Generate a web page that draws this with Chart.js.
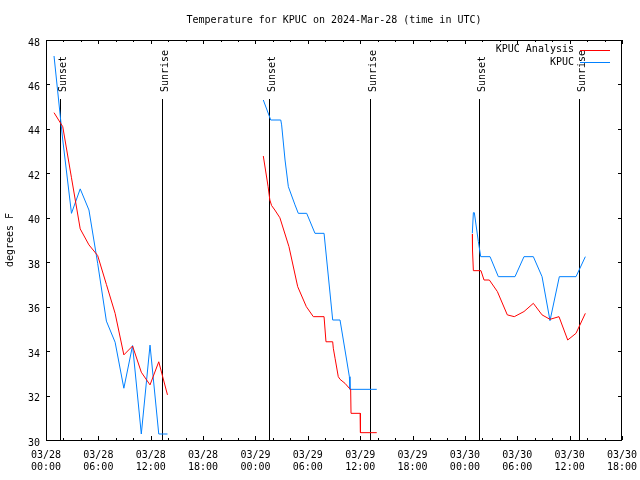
<!DOCTYPE html>
<html>
<head>
<meta charset="utf-8">
<title>Temperature for KPUC</title>
<script src="https://cdn.jsdelivr.net/npm/chart.js@4.4.1/dist/chart.umd.min.js"></script>
<style>
  html, body { margin: 0; padding: 0; background: #fff; }
  canvas { display: block; }
</style>
</head>
<body>
<canvas id="temp-chart" width="640" height="480"></canvas>
<script>
// hours after 03/28 00:00 UTC, null temp = gap between the three runs
const analysisHours = [0.92, 1.92, 2.92, 3.92, 4.92, 5.92, 6.92, 7.92, 8.92, 9.92, 10.92, 11.92, 12.92, 13.92,
  19,
  24.9, 25.45, 25.65, 25.85, 26.22, 26.8, 27.84, 28.84, 29.83, 30.63, 31.86, 32.08, 32.85, 32.92, 33.12,
  33.49, 33.69, 34.26, 34.75, 34.91, 34.95, 36.0, 36.03, 37.9,
  43,
  48.85, 48.87, 48.97, 49.84, 50.19, 50.8, 51.72, 52.86, 53.66, 54.77, 55.84, 56.84, 57.75, 58.78,
  59.78, 60.73, 61.8];
const analysisTemps = [44.73, 44.1, 41.8, 39.5, 38.78, 38.3, 37.0, 35.7, 33.83, 34.23, 33.05, 32.48, 33.52, 32.03,
  null,
  42.78, 41.4, 40.8, 40.55, 40.35, 40.0, 38.7, 36.9, 36.0, 35.55, 35.55, 34.42, 34.42, 34.13, 33.68,
  32.85, 32.73, 32.55, 32.33, 32.28, 31.2, 31.2, 30.33, 30.33,
  null,
  39.27, 38.55, 37.62, 37.62, 37.2, 37.2, 36.68, 35.63, 35.55, 35.78, 36.15, 35.63, 35.43, 35.55,
  34.5, 34.8, 35.7];

const obsHours = [0.92, 1.92, 2.92, 3.92, 4.92, 5.92, 6.92, 7.92, 8.92, 9.92, 10.92, 11.92, 12.92, 13.92,
  19,
  24.9, 25.75, 26.9, 27.0, 27.39, 27.77, 28.53, 28.91, 29.87, 30.82, 31.86, 32.85, 33.69, 34.45,
  34.76, 34.83, 37.9,
  43,
  48.85, 48.97, 49.08, 49.54, 49.81, 50.88, 51.83, 53.74, 54.77, 55.84, 56.84, 57.75, 58.82, 60.73, 61.8];
const obsTemps = [47.28, 43.5, 40.2, 41.3, 40.35, 37.95, 35.35, 34.4, 32.33, 34.25, 30.27, 34.27, 30.27, 30.27,
  null,
  45.3, 44.4, 44.4, 44.18, 42.6, 41.4, 40.58, 40.2, 40.2, 39.3, 39.3, 35.4, 35.4, 33.6,
  32.85, 32.28, 32.28,
  null,
  39.3, 40.23, 40.23, 38.93, 38.25, 38.25, 37.35, 37.35, 38.25, 38.25, 37.35, 35.37, 37.35, 37.35, 38.25];

const sunsetHours = [1.64, 25.59, 49.65];
const sunriseHours = [13.33, 37.15, 61.11];

const dayLabels = ["03/28", "03/29", "03/30"];
const hourLabels = ["00:00", "06:00", "12:00", "18:00"];

const FONT = '10px "DejaVu Sans Mono", "Liberation Mono", monospace';

function toPoints(hours, temps) {
  return hours.map((h, i) => ({ x: h, y: temps[i] }));
}

// gnuplot-like frame, inward ticks on all four sides
const framePlugin = {
  id: "frame",
  afterDatasetsDraw(chart) {
    const { ctx, chartArea: a, scales: { x, y } } = chart;
    ctx.save();
    ctx.strokeStyle = "#000";
    ctx.lineWidth = 1;
    ctx.beginPath();
    for (let h = x.min; h <= x.max; h += 2) {
      const px = Math.round(x.getPixelForValue(h)) + 0.5;
      const len = h % 6 === 0 ? 4 : 2;
      ctx.moveTo(px, a.bottom); ctx.lineTo(px, a.bottom - len);
      ctx.moveTo(px, a.top); ctx.lineTo(px, a.top + len);
    }
    y.ticks.forEach(t => {
      const py = Math.round(y.getPixelForValue(t.value)) + 0.5;
      ctx.moveTo(a.left, py); ctx.lineTo(a.left + 4, py);
      ctx.moveTo(a.right, py); ctx.lineTo(a.right - 4, py);
    });
    ctx.stroke();
    ctx.strokeRect(a.left + 0.5, a.top + 0.5, a.right - a.left - 1, a.bottom - a.top);
    ctx.restore();
  }
};

const sunPlugin = {
  id: "sunLines",
  beforeDatasetsDraw(chart) {
    const { ctx, chartArea: a, scales: { x } } = chart;
    const marks = sunsetHours.map(h => [h, "Sunset"]).concat(sunriseHours.map(h => [h, "Sunrise"]));
    ctx.save();
    ctx.strokeStyle = "#000";
    ctx.fillStyle = "#000";
    ctx.lineWidth = 1;
    ctx.font = FONT;
    marks.forEach(([h, label]) => {
      const px = Math.round(x.getPixelForValue(h)) + 0.5;
      ctx.beginPath();
      ctx.moveTo(px, 99);
      ctx.lineTo(px, a.bottom);
      ctx.stroke();
      ctx.save();
      ctx.translate(px + 5, 92);
      ctx.rotate(-Math.PI / 2);
      ctx.textAlign = "left";
      ctx.textBaseline = "alphabetic";
      ctx.fillText(label, 0, 0);
      ctx.restore();
    });
    ctx.restore();
  }
};

// title and gnuplot-style key (text, then line sample)
const textPlugin = {
  id: "texts",
  afterDraw(chart) {
    const { ctx, chartArea: a } = chart;
    ctx.save();
    ctx.font = FONT;
    ctx.fillStyle = "#000";
    ctx.textBaseline = "middle";
    ctx.textAlign = "center";
    ctx.fillText("Temperature for KPUC on 2024-Mar-28 (time in UTC)", (a.left + a.right) / 2, 20);
    ctx.textAlign = "right";
    chart.data.datasets.forEach((ds, i) => {
      const ly = 49.5 + i * 12.5;
      ctx.fillText(ds.label, 574, ly);
      ctx.strokeStyle = ds.borderColor;
      ctx.lineWidth = 1;
      ctx.beginPath();
      ctx.moveTo(580, Math.round(ly) + 0.5);
      ctx.lineTo(610, Math.round(ly) + 0.5);
      ctx.stroke();
    });
    ctx.restore();
  }
};

new Chart(document.getElementById("temp-chart"), {
  type: "line",
  data: {
    datasets: [
      {
        label: "KPUC Analysis",
        data: toPoints(analysisHours, analysisTemps),
        borderColor: "#ff0000",
      },
      {
        label: "KPUC",
        data: toPoints(obsHours, obsTemps),
        borderColor: "#0080ff",
      },
    ],
  },
  options: {
    responsive: false,
    animation: false,
    devicePixelRatio: 1,
    spanGaps: false,
    layout: { padding: { top: 40, right: 18, left: 0, bottom: 0 } },
    elements: {
      point: { radius: 0 },
      line: { borderWidth: 1, tension: 0, fill: false },
    },
    plugins: {
      legend: { display: false },
      title: { display: false },
      tooltip: { enabled: false },
    },
    scales: {
      x: {
        type: "linear",
        min: 0,
        max: 66,
        grid: { display: false, drawTicks: false },
        border: { display: false },
        ticks: {
          stepSize: 6,
          autoSkip: false,
          maxRotation: 0,
          padding: 9,
          color: "#000",
          font: { family: '"DejaVu Sans Mono", monospace', size: 10, lineHeight: 1.25 },
          callback: v => [dayLabels[Math.floor(v / 24)], hourLabels[(v % 24) / 6]],
        },
        afterFit: s => {
          s.height = 40;
          s.paddingLeft = 0;
          s.paddingRight = 0;
        },
      },
      y: {
        min: 30,
        max: 48,
        grid: { display: false, drawTicks: false },
        border: { display: false },
        ticks: {
          stepSize: 2,
          padding: 6,
          labelOffset: 3,
          color: "#000",
          font: { family: '"DejaVu Sans Mono", monospace', size: 10 },
        },
        title: {
          display: true,
          text: "degrees F",
          color: "#000",
          font: { family: '"DejaVu Sans Mono", monospace', size: 10 },
          padding: { top: 4, bottom: 4 },
        },
        afterFit: s => {
          s.width = 46;
          s.paddingTop = 0;
          s.paddingBottom = 0;
        },
      },
    },
  },
  plugins: [sunPlugin, framePlugin, textPlugin],
});
</script>
</body>
</html>
